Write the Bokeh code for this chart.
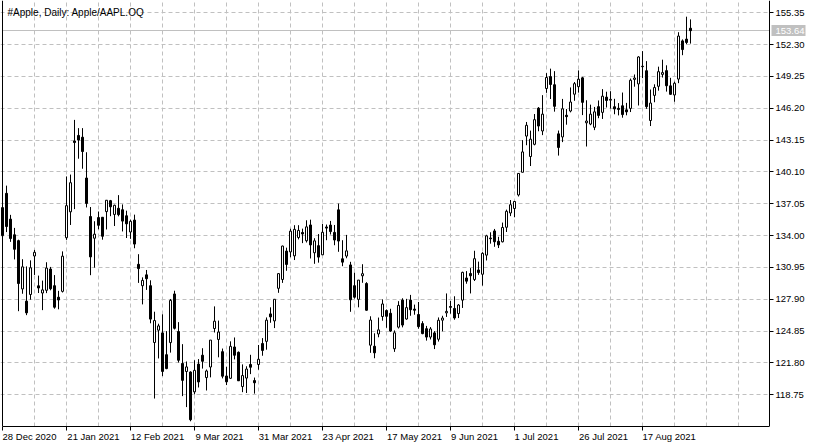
from bokeh.plotting import figure
from bokeh.models import (ColumnDataSource, FixedTicker, LinearAxis, Range1d)
from bokeh.embed import file_html
from bokeh.resources import INLINE
from bokeh.core.properties import value

# ---------------- data ----------------
title_text = "#Apple, Daily:  Apple/AAPL.OQ"

dates = [
    "2020-12-28", "2020-12-29", "2020-12-30", "2020-12-31",
    "2021-01-04", "2021-01-05", "2021-01-06", "2021-01-07", "2021-01-08",
    "2021-01-11", "2021-01-12", "2021-01-13", "2021-01-14", "2021-01-15",
    "2021-01-19", "2021-01-20", "2021-01-21", "2021-01-22",
    "2021-01-25", "2021-01-26", "2021-01-27", "2021-01-28", "2021-01-29",
    "2021-02-01", "2021-02-02", "2021-02-03", "2021-02-04", "2021-02-05",
    "2021-02-08", "2021-02-09", "2021-02-10", "2021-02-11", "2021-02-12",
    "2021-02-16", "2021-02-17", "2021-02-18", "2021-02-19",
    "2021-02-22", "2021-02-23", "2021-02-24", "2021-02-25", "2021-02-26",
    "2021-03-01", "2021-03-02", "2021-03-03", "2021-03-04", "2021-03-05",
    "2021-03-08", "2021-03-09", "2021-03-10", "2021-03-11", "2021-03-12",
    "2021-03-15", "2021-03-16", "2021-03-17", "2021-03-18", "2021-03-19",
    "2021-03-22", "2021-03-23", "2021-03-24", "2021-03-25", "2021-03-26",
    "2021-03-29", "2021-03-30", "2021-03-31", "2021-04-01",
    "2021-04-05", "2021-04-06", "2021-04-07", "2021-04-08", "2021-04-09",
    "2021-04-12", "2021-04-13", "2021-04-14", "2021-04-15", "2021-04-16",
    "2021-04-19", "2021-04-20", "2021-04-21", "2021-04-22", "2021-04-23",
    "2021-04-26", "2021-04-27", "2021-04-28", "2021-04-29", "2021-04-30",
    "2021-05-03", "2021-05-04", "2021-05-05", "2021-05-06", "2021-05-07",
    "2021-05-10", "2021-05-11", "2021-05-12", "2021-05-13", "2021-05-14",
    "2021-05-17", "2021-05-18", "2021-05-19", "2021-05-20", "2021-05-21",
    "2021-05-24", "2021-05-25", "2021-05-26", "2021-05-27", "2021-05-28",
    "2021-06-01", "2021-06-02", "2021-06-03", "2021-06-04",
    "2021-06-07", "2021-06-08", "2021-06-09", "2021-06-10", "2021-06-11",
    "2021-06-14", "2021-06-15", "2021-06-16", "2021-06-17", "2021-06-18",
    "2021-06-21", "2021-06-22", "2021-06-23", "2021-06-24", "2021-06-25",
    "2021-06-28", "2021-06-29", "2021-06-30", "2021-07-01", "2021-07-02",
    "2021-07-06", "2021-07-07", "2021-07-08", "2021-07-09",
    "2021-07-12", "2021-07-13", "2021-07-14", "2021-07-15", "2021-07-16",
    "2021-07-19", "2021-07-20", "2021-07-21", "2021-07-22", "2021-07-23",
    "2021-07-26", "2021-07-27", "2021-07-28", "2021-07-29", "2021-07-30",
    "2021-08-02", "2021-08-03", "2021-08-04", "2021-08-05", "2021-08-06",
    "2021-08-09", "2021-08-10", "2021-08-11", "2021-08-12", "2021-08-13",
    "2021-08-16", "2021-08-17", "2021-08-18", "2021-08-19", "2021-08-20",
    "2021-08-23", "2021-08-24", "2021-08-25", "2021-08-26", "2021-08-27",
    "2021-08-30", "2021-08-31", "2021-09-01", "2021-09-02",
]

opens = [
    133.99, 138.05, 135.58, 134.08, 133.52, 128.89, 127.72, 128.36, 132.05, 129.19,
    128.50, 128.76, 130.80, 129.20, 128.10, 128.66, 133.80, 136.28, 143.07, 143.60,
    143.43, 139.52, 135.83, 133.75, 135.73, 135.76, 136.30, 137.35, 136.03, 136.62,
    136.48, 135.90, 134.35, 135.49, 131.25, 129.20, 130.24, 129.20, 123.76, 124.94,
    124.68, 122.59, 123.75, 128.41, 124.81, 121.75, 120.98, 120.93, 119.03, 121.69,
    122.54, 120.40, 121.41, 125.10, 124.05, 122.88, 120.55, 120.33, 123.33, 122.82,
    119.54, 120.35, 121.65, 120.11, 121.65, 123.66, 123.87, 126.50, 125.83, 128.95,
    129.80, 132.52, 132.44, 132.06, 133.82, 134.30, 133.51, 135.02, 132.36, 133.04,
    132.16, 134.83, 135.01, 134.31, 136.47, 131.78, 132.04, 131.19, 129.20, 127.89,
    130.15, 129.41, 123.50, 123.40, 124.58, 126.25, 126.82, 126.56, 123.16, 125.23,
    127.82, 126.01, 127.82, 126.96, 126.44, 125.57, 125.08, 124.28, 124.68, 124.07,
    125.90, 126.60, 127.21, 127.02, 126.53, 127.82, 129.94, 130.37, 129.80, 130.71,
    130.30, 132.13, 133.77, 134.45, 133.46, 133.41, 134.80, 136.17, 136.60, 137.90,
    140.07, 143.54, 141.58, 142.75, 146.21, 144.03, 148.10, 149.24, 148.46, 143.75,
    143.46, 145.53, 145.94, 147.55, 148.27, 149.12, 144.81, 144.69, 144.38, 146.36,
    145.81, 147.27, 146.98, 146.35, 146.20, 146.44, 146.05, 146.19, 148.97, 148.54,
    150.23, 149.80, 145.03, 147.44, 148.31, 149.45, 149.81, 148.35, 147.48, 149.00,
    152.66, 152.83, 153.87,
]

highs = [
    137.34, 138.79, 135.99, 134.74, 133.61, 131.74, 131.05, 131.63, 132.63, 130.17,
    129.69, 131.45, 131.00, 130.22, 128.71, 132.49, 139.67, 139.85, 145.09, 144.30,
    144.30, 141.99, 136.74, 135.38, 136.31, 135.77, 137.40, 137.42, 136.96, 137.88,
    136.99, 136.39, 135.53, 136.01, 132.22, 130.00, 130.71, 129.72, 126.71, 125.56,
    126.46, 124.85, 127.93, 128.72, 125.71, 123.60, 121.94, 121.00, 122.06, 122.17,
    123.21, 121.17, 124.00, 127.22, 125.86, 123.18, 121.43, 123.87, 124.24, 122.90,
    121.66, 121.48, 122.58, 120.40, 123.52, 124.18, 126.16, 127.13, 127.92, 130.39,
    133.04, 132.85, 134.66, 135.00, 135.00, 134.67, 135.47, 135.53, 133.75, 134.15,
    135.12, 135.06, 135.41, 135.02, 137.07, 133.56, 134.07, 131.49, 130.45, 129.75,
    131.26, 129.54, 126.27, 124.64, 126.15, 127.89, 126.93, 126.99, 124.92, 127.72,
    128.00, 127.94, 128.32, 127.39, 127.64, 125.80, 125.35, 125.24, 124.85, 126.16,
    126.32, 128.46, 127.75, 128.19, 127.44, 130.54, 130.60, 130.89, 132.55, 131.51,
    132.41, 134.08, 134.32, 134.64, 133.89, 135.25, 136.49, 137.41, 137.33, 140.00,
    143.15, 144.89, 144.06, 145.65, 146.32, 147.46, 149.57, 150.00, 149.76, 144.07,
    147.10, 146.13, 148.20, 148.72, 149.83, 149.21, 146.97, 146.55, 146.33, 146.95,
    148.04, 147.79, 147.84, 147.11, 146.70, 147.71, 146.72, 149.05, 149.44, 151.19,
    151.68, 150.72, 148.00, 148.50, 150.19, 150.86, 150.32, 149.12, 148.75, 153.49,
    152.80, 154.98, 154.72,
]

lows = [
    133.51, 134.34, 133.40, 131.72, 126.76, 128.43, 126.38, 127.86, 130.23, 128.50,
    126.86, 128.49, 128.76, 127.00, 126.94, 128.55, 133.59, 135.02, 136.54, 141.37,
    140.41, 136.70, 130.21, 130.93, 134.61, 133.61, 134.59, 135.86, 134.92, 135.85,
    134.40, 133.77, 133.69, 132.79, 129.47, 127.41, 128.80, 125.60, 118.39, 122.23,
    120.54, 121.20, 122.79, 125.01, 121.84, 118.62, 117.57, 116.21, 118.79, 119.45,
    121.26, 119.16, 120.42, 124.72, 122.34, 120.32, 119.68, 120.26, 122.14, 120.07,
    119.00, 118.92, 120.73, 118.86, 121.15, 122.49, 123.07, 125.65, 125.14, 128.52,
    129.47, 130.63, 131.93, 131.66, 133.64, 133.28, 133.34, 131.81, 131.30, 131.41,
    132.16, 133.56, 134.11, 133.08, 132.45, 131.07, 131.83, 126.70, 127.97, 127.13,
    129.48, 126.81, 122.77, 122.25, 124.26, 125.85, 125.17, 124.78, 122.86, 125.10,
    125.21, 125.94, 126.32, 126.42, 125.08, 124.55, 123.94, 124.05, 123.13, 123.85,
    124.83, 126.21, 126.52, 125.94, 126.10, 127.07, 129.39, 128.46, 129.65, 130.24,
    129.21, 131.62, 133.23, 132.93, 132.81, 133.35, 134.35, 135.87, 135.76, 137.75,
    140.07, 142.66, 140.67, 142.65, 144.00, 143.63, 147.68, 147.09, 145.88, 141.67,
    142.96, 144.63, 145.81, 146.92, 147.70, 145.55, 142.54, 144.58, 144.11, 145.25,
    145.18, 146.28, 146.17, 145.63, 145.52, 145.30, 145.53, 145.84, 148.27, 146.47,
    149.09, 146.15, 144.50, 146.78, 147.89, 149.15, 147.80, 147.51, 146.83, 148.61,
    151.29, 152.34, 152.40,
]

closes = [
    136.69, 134.87, 133.72, 132.69, 129.41, 131.01, 126.60, 130.92, 132.40, 128.98,
    128.80, 130.89, 128.91, 127.14, 127.83, 132.03, 136.87, 139.07, 142.92, 143.16,
    142.06, 137.09, 131.96, 134.14, 134.99, 133.94, 137.39, 136.76, 136.91, 136.01,
    135.39, 135.13, 135.37, 133.19, 130.84, 129.71, 129.87, 126.00, 125.86, 125.35,
    120.99, 121.26, 127.79, 125.12, 122.06, 120.13, 121.42, 116.36, 121.09, 119.98,
    121.96, 121.03, 123.99, 125.80, 124.76, 120.53, 119.99, 123.39, 122.54, 120.09,
    120.59, 121.21, 121.39, 119.90, 122.15, 123.00, 125.90, 126.21, 127.90, 130.36,
    133.00, 131.24, 134.43, 134.60, 134.50, 134.16, 134.84, 133.11, 133.50, 131.94,
    134.32, 134.72, 134.39, 133.58, 133.48, 131.46, 132.54, 127.85, 128.10, 129.74,
    130.35, 126.85, 125.91, 122.77, 124.97, 127.45, 126.27, 124.85, 124.69, 127.31,
    125.43, 127.10, 126.90, 126.85, 125.28, 124.61, 124.28, 125.06, 123.54, 125.89,
    126.10, 126.74, 127.13, 126.11, 127.35, 130.48, 129.64, 130.15, 131.79, 130.46,
    132.30, 133.98, 133.70, 133.41, 133.11, 134.78, 136.33, 136.96, 137.27, 139.96,
    142.02, 144.57, 143.24, 145.11, 144.50, 145.64, 149.15, 148.48, 146.39, 142.45,
    146.15, 145.40, 146.80, 148.56, 148.99, 146.77, 144.98, 145.64, 145.86, 145.52,
    147.36, 146.95, 147.06, 146.14, 146.09, 145.60, 145.86, 148.89, 149.10, 151.12,
    150.19, 146.36, 146.70, 148.19, 149.71, 149.62, 148.36, 147.54, 148.60, 153.12,
    151.83, 152.51, 153.64,
]

tick_dates = ["2020-12-28", "2021-01-21", "2021-02-12", "2021-03-09", "2021-03-31",
              "2021-04-23", "2021-05-17", "2021-06-09", "2021-07-01", "2021-07-26",
              "2021-08-17"]
tick_labels = ["28 Dec 2020", "21 Jan 2021", "12 Feb 2021", "9 Mar 2021", "31 Mar 2021",
               "23 Apr 2021", "17 May 2021", "9 Jun 2021", "1 Jul 2021", "26 Jul 2021",
               "17 Aug 2021"]
price_ticks = [118.75, 121.80, 124.85, 127.90, 130.95, 134.00, 137.05, 140.10,
               143.15, 146.20, 149.25, 152.30, 155.35]
last_price = 153.64

# ---------------- style / layout ----------------
FONT = "Liberation Sans"
FS_PX = 9.5
FS = f"{FS_PX}px"
TITLE_FS = "10px"
W, H = 817, 447
FRAME_H = 426            # plot area height (bottom axis at y=426)
PX_BAR = 4.0             # pixels per bar
X0 = -0.5                # bar 0 sits at pixel column 2 (renderer adds a half-pixel shift)
X1 = X0 + W / PX_BAR
X_AXIS = 191.75          # right price-axis line (pixel column 769)
Y_HI, Y_LO = 156.53, 115.71
PPU = FRAME_H / (Y_HI - Y_LO)   # pixels per price unit
GRID = "#c0c0c0"

def snap(v):
    """price level nudged onto a whole pixel row, so 1px horizontal rules stay crisp"""
    return Y_HI - round((Y_HI - v) * PPU) / PPU

# approximate Liberation Sans advance widths (em/1000) for placing the left-aligned dates
CW = {" ": 278, "D": 722, "e": 556, "c": 500, "J": 500, "a": 556, "n": 556, "F": 611,
      "b": 556, "M": 833, "r": 333, "A": 667, "p": 556, "y": 500, "u": 556, "l": 222,
      "g": 556}
def text_w(s):
    return sum(CW.get(ch, 556) for ch in s) * FS_PX / 1000.0

n = len(closes)
idx = list(range(n))
tops = [max(o, c) for o, c in zip(opens, closes)]
bottoms = [min(o, c) for o, c in zip(opens, closes)]
fills = ["white" if c >= o else "black" for o, c in zip(opens, closes)]
src = ColumnDataSource(dict(x=idx, high=highs, low=lows, top=tops, bottom=bottoms, fill=fills))

p = figure(width=W, height=H, output_backend="svg", toolbar_location=None,
           x_range=Range1d(X0, X1), y_range=Range1d(Y_LO, Y_HI),
           y_axis_location=None,
           min_border_left=0, min_border_right=0, min_border_top=0,
           min_border_bottom=H - FRAME_H,
           background_fill_color="white", border_fill_color="white",
           outline_line_color=None)

tick_idx = [dates.index(d) for d in tick_dates]

# bottom axis: line + tick marks
xa = p.xaxis[0]
xa.ticker = FixedTicker(ticks=tick_idx)
xa.bounds = (0, X_AXIS)
xa.major_label_overrides = {i: "" for i in tick_idx}
xa.major_label_text_font_size = "1px"
xa.major_label_standoff = 0
xa.major_tick_out = 4
xa.major_tick_in = 0
xa.minor_tick_out = 0
xa.minor_tick_in = 0
xa.axis_line_color = "black"
xa.major_tick_line_color = "black"

# second bottom axis: left-aligned date labels (tick placed at each label's centre)
label_pos = [round((i + (0.5 + text_w(t) / 2) / PX_BAR) * 4) / 4 for i, t in zip(tick_idx, tick_labels)]
xl = LinearAxis(ticker=FixedTicker(ticks=label_pos),
                major_label_overrides={pos: t for pos, t in zip(label_pos, tick_labels)},
                major_tick_out=0, major_tick_in=0, minor_tick_out=0, minor_tick_in=0,
                axis_line_color=None, major_label_standoff=0,
                major_label_text_font=FONT, major_label_text_font_size=FS,
                major_label_text_color="black")
p.add_layout(xl, "below")

# grid
p.xgrid.ticker = FixedTicker(ticks=list(range(8, int(X_AXIS), 8)))
p.ygrid.ticker = FixedTicker(ticks=price_ticks)
for g in (p.xgrid, p.ygrid):
    g.grid_line_color = GRID
    g.grid_line_dash = "4 3"
    g.grid_line_width = 1

# blank price-scale strip to the right of the plot area
p.quad(left=X_AXIS, right=X1, bottom=Y_LO, top=Y_HI, fill_color="white", line_color=None)

# current price line
p.segment(x0=0, y0=snap(last_price), x1=X_AXIS, y1=snap(last_price),
          line_color=GRID, line_width=1)

# candles
p.segment(x0="x", y0="low", x1="x", y1="high", source=src, line_color="black", line_width=1)
p.vbar(x="x", width=0.5, top="top", bottom="bottom", source=src,
       fill_color="fill", line_color="black", line_width=1)

# left border and right price axis
p.segment(x0=0, y0=Y_LO, x1=0, y1=Y_HI, line_color="black", line_width=1)
p.segment(x0=X_AXIS, y0=Y_LO, x1=X_AXIS, y1=Y_HI, line_color="black", line_width=1)
tick_src = ColumnDataSource(dict(y=price_ticks, ys=[snap(v) for v in price_ticks],
                                 label=[f"{v:.2f}" for v in price_ticks]))
p.segment(x0=X_AXIS, y0="ys", x1=X_AXIS + 4 / PX_BAR, y1="ys", source=tick_src,
          line_color="black", line_width=1)
p.text(x=X_AXIS + 6 / PX_BAR, y="y", text="label", source=tick_src,
       text_font=value(FONT), text_font_size=value(FS), text_color="black",
       text_align="left", text_baseline="middle")

# current price tag
p.quad(left=X_AXIS + 2 / PX_BAR, right=X_AXIS + 36 / PX_BAR,
       bottom=snap(last_price) - 5.5 / PPU, top=snap(last_price) + 5.5 / PPU,
       fill_color=GRID, line_color=None)
p.text(x=[X_AXIS + 6 / PX_BAR], y=[last_price], text=[f"{last_price:.2f}"],
       text_font=value(FONT), text_font_size=value(FS), text_color="white",
       text_align="left", text_baseline="middle")

# title
p.text(x=[X0 + 7 / PX_BAR], y=[Y_HI - 11.5 / PPU], text=[title_text],
       text_font=value(FONT), text_font_size=value(TITLE_FS), text_color="black",
       text_align="left", text_baseline="middle")

open("out.html", "w").write(file_html(p, INLINE))
